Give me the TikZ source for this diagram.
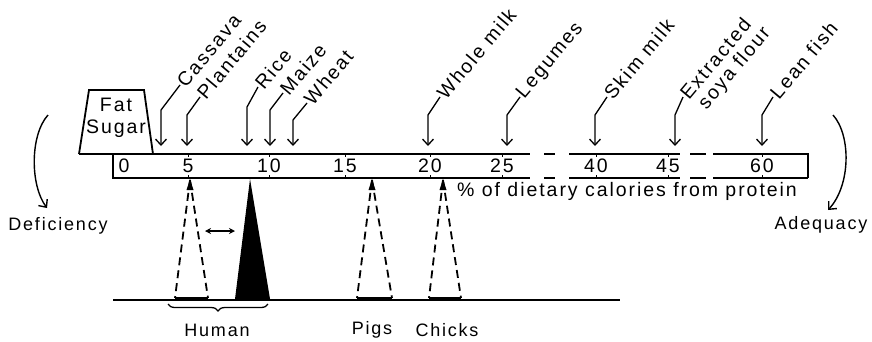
\documentclass[tikz,border=0pt]{standalone}
\usepackage{fontspec}
\setmainfont{Liberation Sans}[LetterSpace=10]
\usetikzlibrary{arrows.meta,decorations.pathreplacing,calc}
\begin{document}
\begin{tikzpicture}[x=1pt,y=-1pt,
  every node/.style={font=\fontsize{18}{21}\selectfont, inner sep=1pt},
  big/.style={font=\fontsize{19.5}{22}\selectfont},
  ln/.style={line width=1.8pt},
  foodarr/.style={line width=1.3pt, -{Straight Barb[length=6pt,width=11pt,line width=1.3pt]}},
  curvarr/.style={line width=1.4pt, -{Straight Barb[length=6pt,width=11pt,line width=1.4pt]}},
  lbl/.style={big, anchor=west, rotate=50},
  dtri/.style={line width=1.8pt, dash pattern=on 8pt off 5pt},
  tick/.style={line width=1pt},
  num/.style={big, anchor=center}
]
\useasboundingbox (0,0) rectangle (872,341);

% Fat / Sugar block
\draw[ln, line join=miter] (79,154) -- (89,90) -- (144,90) -- (153,154);
\node[big, align=center] (fat) at (116,118) {Fat\\Sugar};

% scale bar
\draw[ln] (79,154) -- (530,154);
\draw[ln] (544,154) -- (555,154);
\draw[ln] (569,154) -- (680,154);
\draw[ln] (690,154) -- (706,154);
\draw[ln] (713,154) -- (808,154) -- (808,178);
\draw[ln] (113,154) -- (113,178) -- (530,178);
\draw[ln] (544,178) -- (555,178);
\draw[ln] (569,178) -- (680,178);
\draw[ln] (690,178) -- (706,178);
\draw[ln] (713,178) -- (808,178);

% numbers and ticks
\foreach \nm/\x/\t in {n0/124/0, n5/188/5, n10/269/10, n15/345/15, n20/430/20, n25/502/25, n40/596/40, n45/668/45, n60/762/60}{
  \node[num] (\nm) at (\x,166) {\t};
}
\foreach \x in {188,269,345,430,502,596,668,762}{
  \draw[tick] (\x,154) -- (\x,157);
  \draw[tick] (\x,175) -- (\x,178);
}

% food arrows
\foreach \nm/\x/\yb/\ex/\ey/\t in {
  cassava/161/110/180/85/Cassava,
  plantains/187/115/200/97/Plantains,
  rice/247/107/258/87/Rice,
  maize/270/110/283/93/Maize,
  wheat/293/120/307/103/Wheat,
  wholemilk/428/115/440/97/Whole milk,
  legumes/507/115/520/97/Legumes,
  skimmilk/595/115/607/97/Skim milk,
  leanfish/762/115/773/97/Lean fish}{
  \coordinate (\nm tip) at (\x,146);
  \coordinate (\nm bend) at (\x,\yb);
  \node[lbl] (\nm) at (\ex,\ey) {\t};
  \draw[foodarr] (\nm.west) -- (\nm bend) -- (\nm tip);
}
\coordinate (soyatip) at (675,146);
\coordinate (soyabend) at (675,115);
\node[lbl] (extracted) at (683,97) {Extracted};
\node[lbl] (soya) at (702,108) {soya flour};
\draw[foodarr] (extracted.west) -- (soyabend) -- (soyatip);

% axis caption
\node[big, anchor=west] (caption) at (456,191) {\% of dietary calories from protein};

% deficiency / adequacy
\coordinate (defstart) at (48,115);
\coordinate (defend) at (47,208);
\draw[curvarr] (defstart) .. controls (30,135) and (30,185) .. (defend);
\node (deficiency) at (58,226) {Deficiency};
\coordinate (adqstart) at (833,115);
\coordinate (adqend) at (828,210);
\draw[curvarr] (adqstart) .. controls (851,135) and (851,185) .. (adqend);
\node (adequacy) at (821,225) {Adequacy};

% base line
\coordinate (baseL) at (113,300);
\coordinate (baseR) at (620,300);
\draw[line width=1.5pt] (baseL) -- (baseR);

% dashed triangles with apex marks
\foreach \nm/\ax/\bl/\br in {hum/190/175/208, pig/372/357/392, chk/443/429/461}{
  \coordinate (\nm apex) at (\ax,180);
  \coordinate (\nm L) at (\bl,298);
  \coordinate (\nm R) at (\br,298);
  \draw[dtri] (\nm apex) -- (\nm L);
  \draw[dtri] (\nm apex) -- (\nm R);
  \fill (\ax,179) -- (\ax-3.5,190) -- (\ax+3.5,190) -- cycle;
  \draw[line width=3pt] (\nm L) -- (\nm R);
}

% solid triangle
\coordinate (solapex) at (250,179);
\coordinate (solL) at (235,299);
\coordinate (solR) at (270,299);
\fill (solapex) -- (solL) -- (solR) -- cycle;

% shift arrow
\coordinate (shiftL) at (205,231);
\coordinate (shiftR) at (235,231);
\draw[line width=1.4pt, {Stealth[length=6pt,width=6pt]}-{Stealth[length=6pt,width=6pt]}] (shiftL) -- (shiftR);

% brace and labels
\coordinate (braceR) at (268,304);
\coordinate (braceL) at (168,304);
\draw[line width=1.3pt, decorate, decoration={brace, amplitude=7pt}] (braceR) -- (braceL);
\node (human) at (217,330) {Human};
\node (pigs) at (372,330) {Pigs};
\node (chicks) at (447,330) {Chicks};
\end{tikzpicture}
\end{document}
